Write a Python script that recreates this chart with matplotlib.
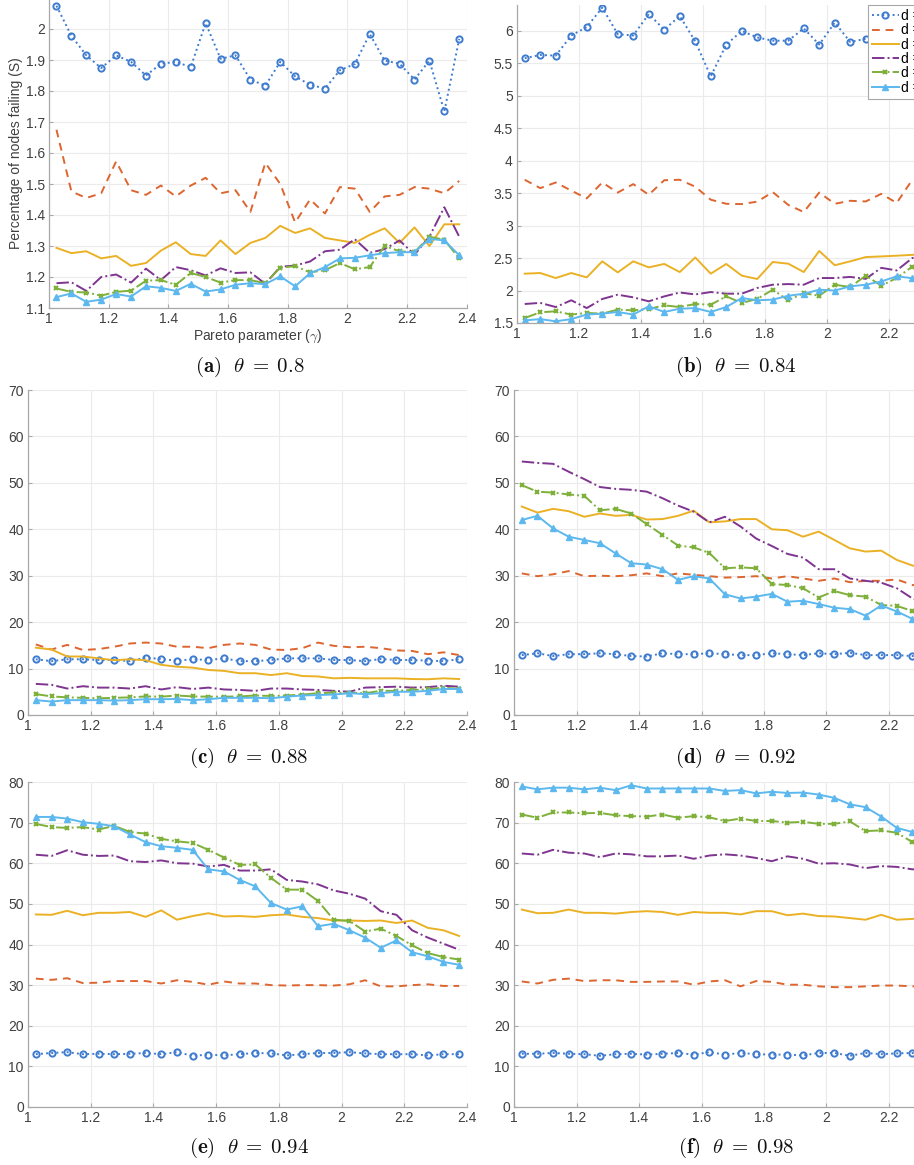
import numpy as np
import matplotlib
matplotlib.use('Agg')
import matplotlib.pyplot as plt
from matplotlib.ticker import FormatStrFormatter

plt.rcParams['font.family'] = ['Liberation Sans', 'DejaVu Sans']
plt.rcParams['mathtext.fontset'] = 'cm'

# Pareto parameter values (same for every panel)
gamma = np.arange(28) * 0.05 + 1.025

legend_labels = ['d = 1', 'd = 2', 'd = 3', 'd = 4', 'd = 5', 'd = 6']

# panel (a) theta = 0.8
a_d1 = [2.075, 1.978, 1.915, 1.874, 1.915, 1.894, 1.85, 1.888, 1.894, 1.877, 2.019, 1.904, 1.915, 1.837,
        1.817, 1.894, 1.847, 1.82, 1.808, 1.867, 1.887, 1.984, 1.898, 1.888, 1.837, 1.898, 1.734, 1.968]
a_d2 = [1.675, 1.476, 1.455, 1.47, 1.573, 1.48, 1.465, 1.495, 1.46, 1.495, 1.52, 1.47, 1.48, 1.41,
        1.568, 1.5, 1.376, 1.45, 1.405, 1.49, 1.485, 1.41, 1.46, 1.465, 1.49, 1.485, 1.47, 1.51]
a_d3 = [1.294, 1.277, 1.283, 1.26, 1.268, 1.236, 1.245, 1.285, 1.312, 1.274, 1.268, 1.318, 1.274, 1.31,
        1.326, 1.365, 1.342, 1.357, 1.326, 1.318, 1.31, 1.336, 1.357, 1.31, 1.36, 1.3, 1.37, 1.37]
a_d4 = [1.18, 1.183, 1.155, 1.2, 1.208, 1.182, 1.227, 1.19, 1.232, 1.222, 1.205, 1.228, 1.213, 1.215,
        1.178, 1.233, 1.237, 1.25, 1.283, 1.288, 1.322, 1.278, 1.29, 1.318, 1.272, 1.33, 1.425, 1.33]
a_d5 = [1.163, 1.152, 1.15, 1.14, 1.152, 1.156, 1.188, 1.19, 1.175, 1.213, 1.2, 1.182, 1.19, 1.19,
        1.18, 1.23, 1.235, 1.215, 1.222, 1.245, 1.225, 1.232, 1.3, 1.283, 1.28, 1.33, 1.32, 1.26]
a_d6 = [1.135, 1.147, 1.12, 1.127, 1.145, 1.137, 1.17, 1.165, 1.155, 1.178, 1.153, 1.16, 1.175, 1.18,
        1.177, 1.202, 1.17, 1.212, 1.232, 1.26, 1.262, 1.27, 1.277, 1.28, 1.28, 1.323, 1.318, 1.27]

# panel (b) theta = 0.84
b_d1 = [5.58, 5.63, 5.62, 5.93, 6.06, 6.36, 5.95, 5.93, 6.26, 6.02, 6.23, 5.84, 5.3, 5.79,
        6.0, 5.9, 5.85, 5.85, 6.04, 5.79, 6.13, 5.83, 5.88, 5.9, 5.95, 5.85, 6.0, 5.9]
b_d2 = [3.707, 3.578, 3.665, 3.54, 3.42, 3.665, 3.51, 3.64, 3.476, 3.70, 3.707, 3.60, 3.40, 3.337,
        3.332, 3.37, 3.517, 3.32, 3.21, 3.51, 3.337, 3.383, 3.373, 3.49, 3.35, 3.707, 3.7, 3.65]
b_d3 = [2.26, 2.27, 2.193, 2.27, 2.203, 2.45, 2.28, 2.45, 2.357, 2.41, 2.285, 2.51, 2.26, 2.41,
        2.23, 2.178, 2.44, 2.414, 2.285, 2.61, 2.39, 2.45, 2.516, 2.526, 2.537, 2.55, 2.56, 2.6]
b_d4 = [1.793, 1.81, 1.746, 1.85, 1.73, 1.87, 1.936, 1.895, 1.834, 1.91, 1.97, 1.94, 1.977, 1.952,
        1.952, 2.04, 2.09, 2.10, 2.09, 2.193, 2.193, 2.21, 2.18, 2.35, 2.31, 2.50, 2.55, 2.6]
b_d5 = [1.577, 1.665, 1.68, 1.63, 1.655, 1.644, 1.706, 1.695, 1.716, 1.772, 1.746, 1.793, 1.782, 1.91,
        1.81, 1.87, 2.013, 1.85, 1.96, 1.92, 2.09, 2.054, 2.23, 2.075, 2.193, 2.37, 2.4, 2.45]
b_d6 = [1.54, 1.56, 1.526, 1.56, 1.63, 1.644, 1.67, 1.63, 1.757, 1.67, 1.72, 1.73, 1.67, 1.746,
        1.885, 1.85, 1.86, 1.92, 1.95, 2.013, 2.0, 2.065, 2.09, 2.14, 2.22, 2.19, 2.25, 2.3]

# panel (c) theta = 0.88
c_d1 = [12.0, 11.6, 12.0, 12.0, 11.85, 11.85, 11.6, 12.35, 12.06, 11.7, 12.0, 11.85, 12.2, 11.6,
        11.6, 11.85, 12.2, 12.2, 12.2, 11.85, 11.85, 11.6, 12.06, 11.85, 11.85, 11.7, 11.6, 12.0]
c_d2 = [15.2, 14.1, 15.1, 14.0, 14.2, 14.7, 15.4, 15.6, 15.4, 14.7, 14.7, 14.4, 15.1, 15.4,
        15.1, 14.1, 14.0, 14.4, 15.6, 14.9, 14.6, 14.7, 14.4, 13.9, 13.8, 13.1, 13.5, 12.9]
c_d3 = [14.5, 14.1, 12.6, 12.6, 12.2, 11.8, 12.0, 11.8, 10.8, 10.4, 10.2, 9.7, 9.5, 9.0,
        9.0, 8.6, 9.0, 8.4, 8.3, 7.9, 8.0, 7.9, 7.9, 7.9, 7.75, 7.7, 7.9, 7.75]
c_d4 = [6.7, 6.5, 5.7, 6.2, 5.9, 5.9, 5.7, 6.2, 5.5, 6.0, 5.6, 5.9, 5.5, 5.4,
        5.2, 5.7, 5.7, 5.5, 5.4, 5.2, 5.0, 5.9, 6.0, 6.1, 5.9, 6.0, 6.3, 6.1]
c_d5 = [4.5, 4.0, 3.8, 3.7, 3.6, 3.7, 3.8, 4.0, 3.95, 4.2, 4.0, 3.95, 3.95, 4.0,
        4.2, 4.1, 4.2, 4.4, 4.7, 4.8, 4.8, 4.7, 5.2, 5.2, 5.4, 5.5, 5.9, 5.6]
c_d6 = [3.2, 2.9, 3.2, 3.2, 3.2, 3.1, 3.2, 3.4, 3.4, 3.45, 3.2, 3.4, 3.7, 3.7,
        3.7, 3.6, 3.95, 4.2, 4.3, 4.4, 4.7, 4.5, 4.7, 5.0, 5.0, 5.2, 5.6, 5.6]

# panel (d) theta = 0.92
d_d1 = [12.9, 13.3, 12.7, 13.1, 13.1, 13.3, 13.1, 12.7, 12.6, 13.3, 13.1, 13.1, 13.3, 13.1,
        12.9, 12.9, 13.3, 13.1, 12.9, 13.3, 13.1, 13.4, 12.9, 12.9, 12.9, 12.7, 13.0, 12.9]
d_d2 = [30.5, 29.9, 30.3, 31.0, 29.9, 30.0, 29.9, 30.1, 30.5, 29.9, 30.5, 30.2, 29.9, 29.6,
        29.7, 29.9, 29.4, 29.9, 29.4, 28.9, 29.4, 28.6, 28.9, 28.9, 29.2, 28.0, 27.6, 27.4]
d_d3 = [44.9, 43.6, 44.4, 43.9, 42.7, 43.4, 42.9, 43.1, 42.1, 42.2, 42.9, 44.0, 41.5, 41.7,
        42.2, 42.2, 40.0, 39.8, 38.4, 39.5, 37.7, 35.9, 35.2, 35.4, 33.4, 32.2, 31.5, 30.8]
d_d4 = [54.6, 54.3, 54.1, 52.4, 50.8, 49.1, 48.7, 48.5, 48.1, 46.7, 45.1, 43.8, 41.5, 42.7,
        40.6, 38.0, 36.4, 34.7, 33.9, 31.4, 31.4, 29.4, 28.9, 28.5, 27.3, 25.1, 24.0, 23.0]
d_d5 = [49.5, 48.1, 47.9, 47.5, 47.2, 44.1, 44.4, 43.4, 41.1, 38.8, 36.5, 36.1, 34.9, 31.6,
        31.8, 31.6, 28.2, 28.0, 27.3, 25.3, 26.7, 25.8, 25.5, 23.7, 23.5, 22.4, 22.3, 21.5]
d_d6 = [42.0, 42.9, 40.2, 38.4, 37.7, 37.0, 34.8, 32.7, 32.4, 31.4, 29.1, 29.9, 29.4, 26.0,
        25.1, 25.5, 26.1, 24.4, 24.6, 23.9, 23.1, 22.8, 21.4, 23.6, 22.3, 20.7, 20.3, 19.8]

# panel (e) theta = 0.94
e_d1 = [13.0, 13.3, 13.5, 13.0, 13.1, 13.0, 13.1, 13.3, 13.0, 13.5, 12.6, 12.9, 12.7, 13.0,
        13.3, 13.2, 12.7, 13.0, 13.3, 13.3, 13.5, 13.2, 13.0, 13.0, 13.0, 12.7, 13.0, 13.0]
e_d2 = [31.6, 31.3, 31.7, 30.5, 30.6, 31.0, 31.0, 31.0, 30.4, 31.2, 30.8, 30.1, 30.9, 30.4,
        30.4, 30.0, 29.9, 30.0, 30.0, 29.9, 30.2, 31.2, 29.7, 29.7, 30.0, 30.2, 29.8, 29.8]
e_d3 = [47.4, 47.3, 48.3, 47.2, 47.8, 47.8, 48.0, 46.8, 48.4, 46.1, 47.0, 47.7, 46.9, 47.0,
        46.8, 47.2, 47.4, 46.8, 46.5, 45.9, 45.9, 45.8, 45.9, 45.3, 45.9, 44.1, 43.5, 42.1]
e_d4 = [62.1, 61.8, 63.2, 62.1, 61.8, 61.9, 60.5, 60.3, 60.7, 60.0, 59.9, 59.2, 59.6, 58.2,
        58.2, 58.5, 55.9, 55.5, 54.8, 53.3, 52.5, 51.3, 48.2, 47.3, 43.5, 41.7, 40.2, 38.7]
e_d5 = [69.7, 68.9, 68.7, 68.9, 68.3, 69.2, 67.7, 67.3, 66.0, 65.4, 65.0, 63.3, 61.4, 59.6,
        59.7, 56.4, 53.5, 53.5, 50.7, 46.1, 45.8, 43.2, 43.9, 42.1, 39.8, 37.9, 36.9, 36.3]
e_d6 = [71.4, 71.4, 71.0, 70.1, 69.7, 69.1, 67.1, 65.2, 64.2, 63.8, 63.3, 58.5, 58.0, 55.9,
        54.3, 50.2, 48.6, 49.4, 44.5, 45.1, 43.5, 41.7, 39.2, 41.0, 38.1, 37.1, 35.7, 35.0]

# panel (f) theta = 0.98
f_d1 = [13.1, 13.1, 13.3, 13.1, 13.0, 12.6, 13.0, 13.1, 12.9, 13.1, 13.3, 12.9, 13.5, 12.9,
        13.3, 13.0, 12.9, 12.9, 12.7, 13.3, 13.3, 12.6, 13.3, 13.0, 13.2, 13.3, 13.0, 13.1]
f_d2 = [30.9, 30.4, 31.3, 31.6, 31.0, 31.2, 31.2, 30.8, 30.8, 30.9, 30.9, 30.1, 30.9, 31.2,
        29.7, 31.0, 30.8, 30.1, 30.1, 29.7, 29.5, 29.5, 29.7, 29.9, 29.9, 29.7, 29.8, 29.6]
f_d3 = [48.6, 47.7, 47.8, 48.6, 47.8, 47.8, 47.6, 48.0, 48.2, 48.0, 47.3, 48.0, 47.8, 47.8,
        47.4, 48.2, 48.2, 47.2, 47.6, 47.0, 46.9, 46.5, 46.1, 47.3, 46.1, 46.3, 46.6, 46.4]
f_d4 = [62.4, 62.1, 63.3, 62.6, 62.4, 61.5, 62.4, 62.2, 61.7, 61.7, 61.9, 61.1, 61.9, 62.2,
        61.9, 61.3, 60.5, 61.7, 61.1, 59.9, 60.0, 59.7, 58.8, 59.3, 59.1, 58.5, 58.6, 58.3]
f_d5 = [72.0, 71.2, 72.5, 72.5, 72.3, 72.4, 71.8, 71.6, 71.5, 72.0, 71.2, 71.6, 71.3, 70.4,
        71.0, 70.4, 70.4, 70.0, 70.2, 69.7, 69.7, 70.3, 67.9, 68.1, 67.5, 65.2, 64.5, 64.0]
f_d6 = [78.9, 78.2, 78.6, 78.6, 78.2, 78.6, 78.0, 79.2, 78.4, 78.4, 78.4, 78.4, 78.4, 77.8,
        78.0, 77.2, 77.6, 77.3, 77.4, 76.9, 76.1, 74.5, 73.8, 71.5, 68.7, 67.7, 67.0, 66.5]

panels = [
    ('a', '0.8', [a_d1, a_d2, a_d3, a_d4, a_d5, a_d6]),
    ('b', '0.84', [b_d1, b_d2, b_d3, b_d4, b_d5, b_d6]),
    ('c', '0.88', [c_d1, c_d2, c_d3, c_d4, c_d5, c_d6]),
    ('d', '0.92', [d_d1, d_d2, d_d3, d_d4, d_d5, d_d6]),
    ('e', '0.94', [e_d1, e_d2, e_d3, e_d4, e_d5, e_d6]),
    ('f', '0.98', [f_d1, f_d2, f_d3, f_d4, f_d5, f_d6]),
]

styles = [
    dict(color='#3f7ccf', ls=':', marker='o', ms=4.5, mfc='none', mew=1.4),
    dict(color='#dd6530', ls=(0, (4, 3)), marker=None),
    dict(color='#ebb125', ls='-', marker=None),
    dict(color='#7f3490', ls='-.', marker=None),
    dict(color='#7eb03a', ls='-.', marker='x', ms=3, mew=1.5),
    dict(color='#5cb8ee', ls='-', marker='^', ms=5),
]

W, H = 914, 1165
# axes rectangles in pixels: x at gamma=1, x at gamma=2.4, y top, y bottom
rects = {
    'a': (49, 466.7, -2, 308),
    'b': (517, 951, 5, 323),
    'c': (28, 467, 390, 715),
    'd': (514, 951.5, 390, 715),
    'e': (28, 467, 782, 1107),
    'f': (514, 951.5, 782, 1107),
}
ylims = {'a': (1.1, 2.1), 'b': (1.5, 6.4), 'c': (0, 70), 'd': (0, 70), 'e': (0, 80), 'f': (0, 80)}
yticks = {'a': np.arange(1.1, 2.05, 0.1), 'b': np.arange(1.5, 6.1, 0.5),
          'c': np.arange(0, 71, 10), 'd': np.arange(0, 71, 10),
          'e': np.arange(0, 81, 10), 'f': np.arange(0, 81, 10)}
captions = {'a': (250, 367), 'b': (736, 367), 'c': (249, 758), 'd': (736, 758),
            'e': (249, 1148), 'f': (736, 1148)}

fig = plt.figure(figsize=(W / 100, H / 100), dpi=100)

for key, theta, series in panels:
    x0, x1, yt, yb = rects[key]
    ax = fig.add_axes([x0 / W, (H - yb) / H, (x1 - x0) / W, (yb - yt) / H])
    for vals, st, lab in zip(series, styles, legend_labels):
        ax.plot(gamma, vals, lw=1.4, label=lab, clip_on=True, **st)
    ax.set_xlim(1, 2.4)
    ax.set_ylim(*ylims[key])
    ax.set_xticks(np.arange(1, 2.41, 0.2))
    ax.set_yticks(yticks[key])
    ax.xaxis.set_major_formatter(FormatStrFormatter('%g'))
    ax.yaxis.set_major_formatter(FormatStrFormatter('%g'))
    ax.grid(True, color='#ebebeb', lw=0.8)
    ax.set_axisbelow(True)
    for s in ['top', 'right']:
        ax.spines[s].set_visible(False)
    for s in ['left', 'bottom']:
        ax.spines[s].set_color('#a8a8a8')
        ax.spines[s].set_linewidth(0.9)
    ax.tick_params(direction='in', length=3, width=0.8, color='#a8a8a8',
                   labelsize=10, labelcolor='#404040', pad=3)
    if key == 'a':
        ax.set_xlabel(r'Pareto parameter ($\gamma$)', fontsize=10, color='#404040', labelpad=1)
        ax.set_ylabel('Percentage of nodes failing (S)', fontsize=10, color='#404040', labelpad=2)
    if key == 'b':
        # legend box starts just inside the right edge of the picture
        leg = ax.legend(loc='upper left', fontsize=10, handlelength=1.9, borderpad=0.3,
                        labelspacing=0.02, handletextpad=0.2, borderaxespad=0, fancybox=False,
                        framealpha=1, edgecolor='#a8a8a8',
                        bbox_to_anchor=((868 - x0) / (x1 - x0), 1.0))
        leg.get_frame().set_linewidth(0.8)
    cx, cy = captions[key]
    fig.text(cx / W, (H - cy) / H, r'$\mathbf{(%s)}\ \ \theta\;=\;%s$' % (key, theta),
             fontsize=15, ha='center', va='center', color='#111111')

fig.savefig('out.png', dpi=100)
